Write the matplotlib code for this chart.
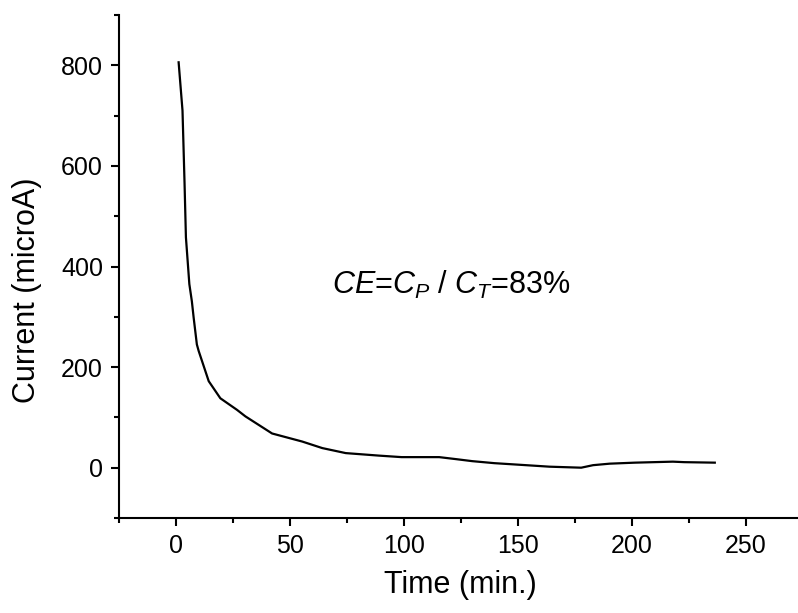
import matplotlib.pyplot as plt
from matplotlib.ticker import MultipleLocator

plt.rcParams["font.family"] = ["Liberation Sans", "DejaVu Sans"]
plt.rcParams["mathtext.fontset"] = "custom"
plt.rcParams["mathtext.rm"] = "Liberation Sans"
plt.rcParams["mathtext.it"] = "Liberation Sans:italic"

# time (min.) and current (microA)
time = [1.2, 2.9, 3.8, 4.4, 5.9, 7.0, 7.8, 9.2, 10, 14.4, 19.5, 26.8, 30.5,
        42.2, 55.4, 64.2, 74.5, 89.1, 99, 115.5, 122.9, 130, 139.7, 153.6,
        163.9, 177.8, 183, 190.3, 201.3, 218, 223, 236.4]
current = [806, 710, 565, 458, 365, 331, 298, 245, 232, 172, 138, 115, 102,
           68, 52, 39, 29, 24, 21, 21, 17, 13, 9, 5,
           2, 0, 5, 8, 10, 12, 11, 10]

fig = plt.figure(figsize=(7.98, 6.13), dpi=100)
ax = fig.add_axes([0.149, 0.155, 0.857, 0.8205])

ax.plot(time, current, color="black", lw=1.6)

ax.set_xlim(-25, 275)
ax.set_ylim(-100, 900)
ax.xaxis.set_major_locator(MultipleLocator(50))
ax.xaxis.set_minor_locator(MultipleLocator(25))
ax.yaxis.set_major_locator(MultipleLocator(200))
ax.yaxis.set_minor_locator(MultipleLocator(100))

for s in ["top", "right"]:
    ax.spines[s].set_visible(False)
for s in ["left", "bottom"]:
    ax.spines[s].set_linewidth(1.5)

ax.tick_params(which="major", length=5.5, width=1.5, labelsize=18, pad=6)
ax.tick_params(which="minor", length=3.5, width=1.5)

ax.set_xlabel("Time (min.)", fontsize=22, labelpad=9)
ax.set_ylabel("Current (microA)", fontsize=22)
ax.yaxis.set_label_coords(-0.112, 0.453)

ax.text(68.5, 345, r"$CE$=$C_P$ / $C_T$=83%", fontsize=22,
        ha="left", va="baseline")

plt.savefig("out.png")
